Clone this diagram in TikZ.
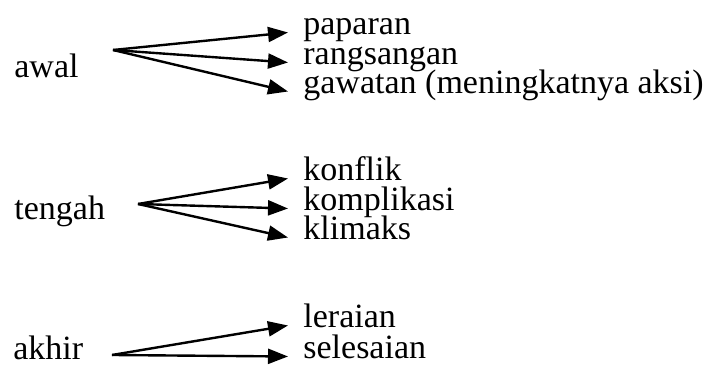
\documentclass[tikz,border=0pt]{standalone}
\usepackage{fontspec}
\setmainfont{Liberation Serif}
\usetikzlibrary{arrows.meta, positioning}

\begin{document}
\begin{tikzpicture}[x=0.5pt, y=-0.5pt,
  every node/.style={font=\fontsize{17}{20}\selectfont, inner sep=0pt},
  part/.style={anchor=base west},
  item/.style={anchor=base west, inner xsep=7.5pt, text height=0.5em, text depth=0.25em},
  fan/.style={-{Triangle[length=10pt, width=7.5pt]}, line width=1.2pt}]
  \useasboundingbox (0,0) rectangle (709,367);

  % awal
  \node[part] (awal) at (14,78) {awal};
  \coordinate (awal-fan) at (113,50);
  \node[item] (paparan) at (288,35) {paparan};
  \node[item] (rangsangan) at (288,65) {rangsangan};
  \node[item] (gawatan) at (288,94) {gawatan (meningkatnya aksi)};
  \draw[fan] (awal-fan) -- (paparan.west);
  \draw[fan] (awal-fan) -- (rangsangan.west);
  \draw[fan] (awal-fan) -- (gawatan.west);

  % tengah
  \node[part] (tengah) at (14,220) {tengah};
  \coordinate (tengah-fan) at (138,204);
  \node[item] (konflik) at (288,181) {konflik};
  \node[item] (komplikasi) at (288,211) {komplikasi};
  \node[item] (klimaks) at (288,240) {klimaks};
  \draw[fan] (tengah-fan) -- (konflik.west);
  \draw[fan] (tengah-fan) -- (komplikasi.west);
  \draw[fan] (tengah-fan) -- (klimaks.west);

  % akhir
  \node[part] (akhir) at (13,360) {akhir};
  \coordinate (akhir-fan) at (112,355);
  \node[item] (leraian) at (288,328) {leraian};
  \node[item] (selesaian) at (288,359) {selesaian};
  \draw[fan] (akhir-fan) -- (leraian.west);
  \draw[fan] (akhir-fan) -- (selesaian.west);
\end{tikzpicture}
\end{document}
